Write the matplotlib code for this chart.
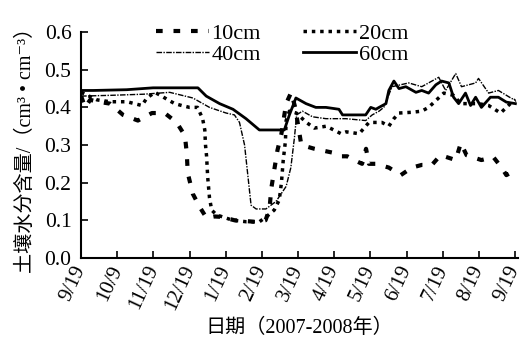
import matplotlib
matplotlib.use("Agg")
import matplotlib.pyplot as plt

plt.rcParams['font.family'] = ['Liberation Serif', 'Noto Sans CJK SC', 'DejaVu Sans']

# x positions in tick units (0 = 9/19 start, 12 = 9/19 end)
tick_labels = ["9/19", "10/9", "11/19", "12/19", "1/19", "2/19", "3/19",
               "4/19", "5/19", "6/19", "7/19", "8/19", "9/19"]

x10 = [0, 0.11, 0.25, 0.47, 0.80, 1.16, 1.57, 1.96, 2.31, 2.64, 2.87, 2.92, 2.95,
       3.09, 3.28, 3.47, 3.69, 3.88, 4.24, 4.66, 4.93, 5.10, 5.21, 5.26, 5.34, 5.43,
       5.54, 5.67, 5.81, 5.92, 6.09, 6.45, 6.94, 7.19, 7.36, 7.55, 7.77, 7.88, 7.96,
       8.15, 8.51, 8.84, 9.15, 9.42, 9.70, 9.94, 10.36, 10.50, 10.66, 11.07, 11.40,
       11.63, 11.76, 12.01]
y10 = [0.43, 0.40, 0.42, 0.415, 0.41, 0.38, 0.365, 0.385, 0.385, 0.36, 0.325, 0.28, 0.225,
       0.17, 0.135, 0.106, 0.11, 0.109, 0.10, 0.097, 0.095, 0.10, 0.13, 0.185, 0.233, 0.286,
       0.33, 0.41, 0.44, 0.40, 0.30, 0.29, 0.28, 0.27, 0.27, 0.26, 0.25, 0.29, 0.25,
       0.25, 0.24, 0.22, 0.24, 0.247, 0.247, 0.273, 0.26, 0.305, 0.273, 0.26, 0.268,
       0.24, 0.22, 0.233]

x20 = [0, 0.44, 0.80, 1.27, 1.68, 1.82, 2.04, 2.23, 2.40, 2.59, 2.78, 3.00, 3.22, 3.36,
       3.42, 3.44, 3.47, 3.50, 3.55, 3.61, 3.75, 3.91, 4.19, 4.57, 4.93, 5.12, 5.34,
       5.48, 5.54, 5.59, 5.65, 5.67, 5.76, 5.95, 6.23, 6.45, 6.78, 7.19, 7.33, 7.69,
       7.96, 8.18, 8.32, 8.51, 8.65, 8.79, 9.15, 9.42, 9.61, 9.83, 10.03, 10.30, 10.50,
       10.72, 10.99, 11.27, 11.60, 11.87, 12.01]
y20 = [0.44, 0.42, 0.415, 0.415, 0.405, 0.425, 0.44, 0.43, 0.42, 0.41, 0.405, 0.40, 0.40, 0.37,
       0.34, 0.30, 0.27, 0.215, 0.16, 0.127, 0.114, 0.109, 0.10, 0.096, 0.096, 0.109, 0.127,
       0.154, 0.20, 0.26, 0.31, 0.365, 0.39, 0.385, 0.36, 0.345, 0.35, 0.33, 0.335, 0.33,
       0.36, 0.36, 0.36, 0.35, 0.37, 0.385, 0.387, 0.39, 0.40, 0.42, 0.438, 0.432, 0.41,
       0.41, 0.41, 0.405, 0.385, 0.41, 0.42]

x40 = [0, 0.80, 1.72, 2.45, 3.09, 3.55, 4.01, 4.24, 4.38, 4.52, 4.61, 4.70, 4.84, 5.11,
       5.39, 5.67, 5.80, 5.90, 5.96, 6.12, 6.40, 6.77, 7.32, 7.87, 8.05, 8.24, 8.37, 8.60,
       9.06, 9.42, 9.89, 10.08, 10.36, 10.52, 10.91, 10.99, 11.27, 11.54, 11.90, 12.01]
y40 = [0.43, 0.432, 0.435, 0.44, 0.425, 0.40, 0.385, 0.38, 0.36, 0.30, 0.22, 0.14, 0.13, 0.13,
       0.15, 0.19, 0.24, 0.32, 0.38, 0.39, 0.375, 0.37, 0.37, 0.365, 0.38, 0.39, 0.40, 0.455,
       0.465, 0.455, 0.48, 0.445, 0.49, 0.455, 0.465, 0.477, 0.438, 0.445, 0.424, 0.42]

x60 = [0, 0.34, 1.26, 1.99, 3.23, 3.46, 3.83, 4.20, 4.56, 4.93, 5.62, 5.76, 5.94, 6.22,
       6.49, 6.77, 7.13, 7.23, 7.87, 8.01, 8.15, 8.24, 8.43, 8.51, 8.65, 8.79, 8.98, 9.26,
       9.42, 9.61, 9.81, 9.97, 10.17, 10.30, 10.44, 10.63, 10.77, 10.91, 11.07, 11.32,
       11.54, 11.76, 12.01]
y60 = [0.445, 0.445, 0.447, 0.452, 0.452, 0.43, 0.41, 0.395, 0.37, 0.34, 0.34, 0.38, 0.425, 0.41,
       0.40, 0.40, 0.395, 0.38, 0.38, 0.40, 0.395, 0.40, 0.41, 0.445, 0.47, 0.45, 0.455, 0.44,
       0.445, 0.438, 0.46, 0.47, 0.465, 0.427, 0.41, 0.438, 0.405, 0.427, 0.40, 0.427,
       0.427, 0.414, 0.41]

fig = plt.figure(figsize=(5.2, 3.42), dpi=100)
ax = fig.add_axes([0.156, 0.246, 0.84, 0.66])

l10, = ax.plot(x10, y10, color='black', lw=3, dashes=(1.6, 2.6), label='10cm')
l20, = ax.plot(x20, y20, color='black', lw=2.5, dashes=(1.0, 1.4), label='20cm')
l40, = ax.plot(x40, y40, color='black', lw=1, dashes=(4, 1, 1, 1), label='40cm')
l60, = ax.plot(x60, y60, color='black', lw=2, label='60cm')

ax.set_xlim(0, 12.08)
ax.set_ylim(0, 0.6)
ax.set_xticks(range(len(tick_labels)))
ax.set_xticklabels(tick_labels, rotation=65, ha='right', va='center',
                   rotation_mode='anchor', fontsize=15)
ax.set_yticks([0, 0.1, 0.2, 0.3, 0.4, 0.5, 0.6])
ax.set_yticklabels(["0.0", "0.1", "0.2", "0.3", "0.4", "0.5", "0.6"], fontsize=15.5)
ax.tick_params(direction='in', length=5, width=1.2, colors='black')
ax.tick_params(axis='x', pad=6)
ax.tick_params(axis='y', pad=7)
for s in ['top', 'right']:
    ax.spines[s].set_visible(False)
for s in ['left', 'bottom']:
    ax.spines[s].set_linewidth(1.5)

ax.set_xlabel('日期（2007-2008年）', fontsize=14.5, labelpad=4)
ax.set_ylabel('土壤水分含量/（cm³ • cm⁻³）', fontsize=14.5, labelpad=6)

fig.legend([l10, l40, l20, l60], ['10cm', '40cm', '20cm', '60cm'], ncol=2,
           loc='center', bbox_to_anchor=(0.542, 0.871), frameon=False,
           fontsize=16, handlelength=2.4, handletextpad=0.1, columnspacing=1.9,
           labelspacing=0.05, borderpad=0)

fig.savefig('out.png', dpi=100)
